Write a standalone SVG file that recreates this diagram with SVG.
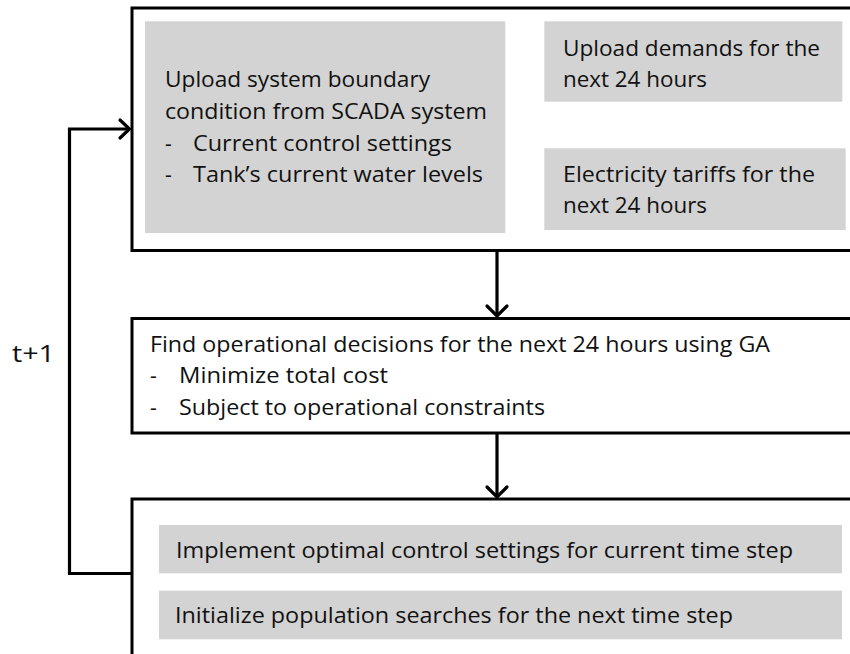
<svg xmlns="http://www.w3.org/2000/svg" width="850" height="654" viewBox="0 0 850 654">
<style>
.box{fill:#ffffff;stroke:#000000;stroke-width:3}
.gray{fill:#d3d3d3}
.t{font-family:"Open Sans","Liberation Sans",sans-serif;font-size:21px;fill:#111111}
.con{fill:none;stroke:#000000;stroke-width:3.2}
.head{fill:none;stroke:#000000;stroke-width:3.2;stroke-linecap:round;stroke-linejoin:miter}
</style>
<rect width="850" height="654" fill="#ffffff"/>
<g id="connectors">
  <polyline class="con" points="132,573.5 69.5,573.5 69.5,129 129,129"/>
  <polyline class="head" points="120,120 129.5,129 120,138"/>
  <line class="con" x1="497" y1="251" x2="497" y2="316"/>
  <polyline class="head" points="487,306 497,316 507,306"/>
  <line class="con" x1="497" y1="433" x2="497" y2="497"/>
  <polyline class="head" points="487,487 497,497 507,487"/>
</g>
<g id="label-t1">
  <text class="t" x="12" y="362" style="font-size:23px" textLength="43" lengthAdjust="spacingAndGlyphs">t+1</text>
</g>
<g id="node-inputs">
  <rect class="box" x="132" y="8" width="740" height="242.5"/>
  <g id="scada">
    <rect class="gray" x="145" y="21.3" width="360.3" height="211.7"/>
    <text class="t" x="165" y="87" textLength="265" lengthAdjust="spacingAndGlyphs">Upload system boundary</text>
    <text class="t" x="165" y="119" textLength="322" lengthAdjust="spacingAndGlyphs">condition from SCADA system</text>
    <text class="t" x="165" y="151">-</text>
    <text class="t" x="193" y="151" textLength="259" lengthAdjust="spacingAndGlyphs">Current control settings</text>
    <text class="t" x="165" y="182">-</text>
    <text class="t" x="193" y="182" textLength="290" lengthAdjust="spacingAndGlyphs">Tank’s current water levels</text>
  </g>
  <g id="demands">
    <rect class="gray" x="544.3" y="21.3" width="298" height="80.4"/>
    <text class="t" x="563" y="56" textLength="257" lengthAdjust="spacingAndGlyphs">Upload demands for the</text>
    <text class="t" x="563" y="87" textLength="144" lengthAdjust="spacingAndGlyphs">next 24 hours</text>
  </g>
  <g id="tariffs">
    <rect class="gray" x="544.3" y="148.3" width="301.4" height="81.7"/>
    <text class="t" x="563" y="182" textLength="252" lengthAdjust="spacingAndGlyphs">Electricity tariffs for the</text>
    <text class="t" x="563" y="213" textLength="144" lengthAdjust="spacingAndGlyphs">next 24 hours</text>
  </g>
</g>
<g id="node-ga">
  <rect class="box" x="132" y="318.5" width="740" height="114.5"/>
  <text class="t" x="150" y="352" textLength="620" lengthAdjust="spacingAndGlyphs">Find operational decisions for the next 24 hours using GA</text>
  <text class="t" x="150" y="383">-</text>
  <text class="t" x="179" y="383" textLength="209" lengthAdjust="spacingAndGlyphs">Minimize total cost</text>
  <text class="t" x="150" y="415">-</text>
  <text class="t" x="179" y="415" textLength="366" lengthAdjust="spacingAndGlyphs">Subject to operational constraints</text>
</g>
<g id="node-implement">
  <rect class="box" x="132" y="499" width="740" height="200"/>
  <g id="implement">
    <rect class="gray" x="159" y="525" width="683" height="48.3"/>
    <text class="t" x="176" y="558" textLength="617" lengthAdjust="spacingAndGlyphs">Implement optimal control settings for current time step</text>
  </g>
  <g id="initialize">
    <rect class="gray" x="159" y="590.7" width="683" height="48.6"/>
    <text class="t" x="175" y="623" textLength="558" lengthAdjust="spacingAndGlyphs">Initialize population searches for the next time step</text>
  </g>
</g>
</svg>
